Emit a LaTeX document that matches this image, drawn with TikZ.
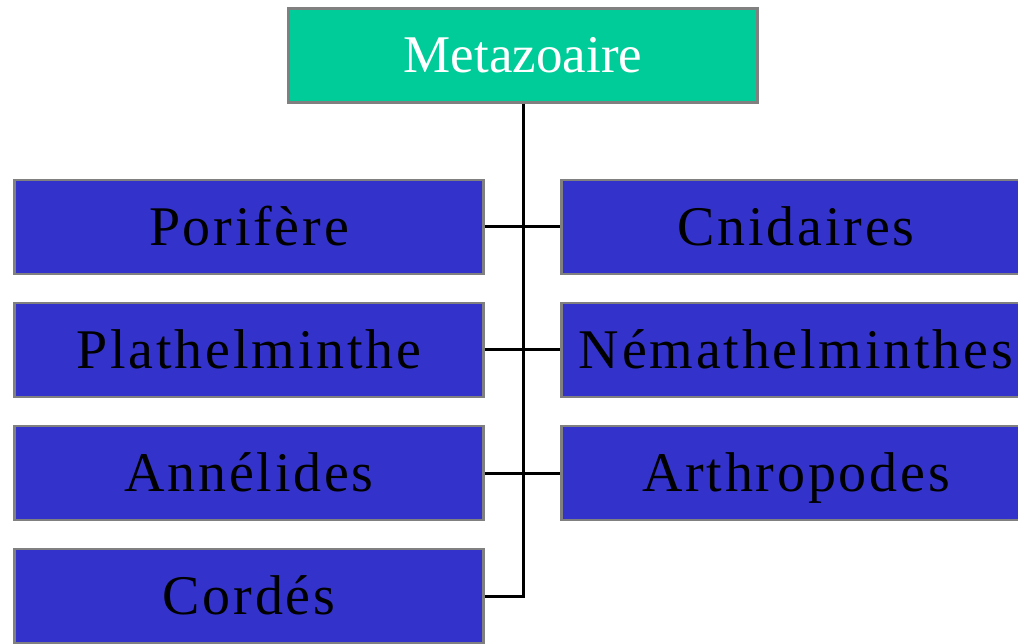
\documentclass[tikz,border=0pt]{standalone}
\usepackage{fontspec}
\setmainfont{Liberation Serif}
\newfontfamily\spaced[LetterSpace=5]{Liberation Serif}
\definecolor{phylum}{HTML}{3333CC}
\definecolor{regne}{HTML}{00CC99}
\begin{document}
\begin{tikzpicture}[x=1pt,y=-1pt]
        \tikzstyle{taxon}=[draw=gray,line width=2.5pt,fill=phylum,minimum width=469pt,minimum height=94pt,inner sep=0pt,text height=37pt,text depth=0pt,font=\spaced\fontsize{56}{56}\selectfont]
        \tikzstyle{root}=[taxon,fill=regne,text=white,text height=35pt,font=\fontsize{53}{53}\selectfont]
        \tikzstyle{edge}=[draw,line width=3pt]
       \useasboundingbox (0,0) rectangle (1018,644);
       \clip (0,0) rectangle (1018,644);
       \begin{scope}
         \node [root] (meta) at (523,55.5) {Metazoaire};
         \node [taxon] (pori) at (249,227) {Porifère};
         \node [taxon] (plat) at (249,350) {Plathelminthe};
         \node [taxon] (anne) at (249,473) {Annélides};
         \node [taxon] (cord) at (249,596) {Cordés};
         \node [taxon] (cnid) at (796,227) {Cnidaires};
         \node [taxon] (nema) at (796,350) {Némathelminthes};
         \node [taxon] (arth) at (796,473) {Arthropodes};
         \path[edge] (meta.south) -- (meta.south |- cord.east) -- (cord.east);
         \path[edge] (pori.east) -- (cnid.west);
         \path[edge] (plat.east) -- (nema.west);
         \path[edge] (anne.east) -- (arth.west);
        \end{scope}
      \end{tikzpicture}
\end{document}
